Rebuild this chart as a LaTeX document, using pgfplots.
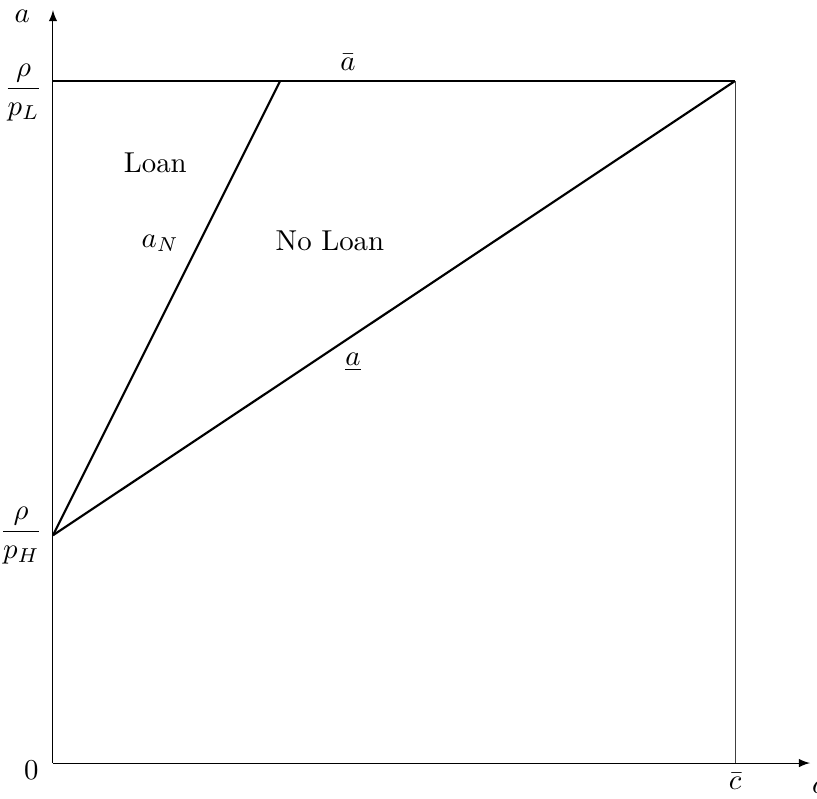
\documentclass[border=0pt]{standalone}
\usepackage{amsmath}
\usepackage{pgfplots}
\pgfplotsset{compat=1.18}
\begin{document}
\begin{tikzpicture}
\begin{axis}[
 x=236.8pt, y=236.8pt,
 axis lines=left,
 axis line style={line width=0.35pt, -latex},
 xmin=0, xmax=1.11, ymin=0, ymax=1.104,
 xtick={1}, xticklabels={$\bar{c}$},
 ytick={0.334},
 yticklabels={$\dfrac{\rho}{\rule{0pt}{7.6pt}p_H}$},
 extra y ticks={1},
 extra y tick labels={$\dfrac{\rho}{\rule{0pt}{7.6pt}p_L}$},
 extra y tick style={yticklabel style={yshift=-3.9pt}},
 major tick length=0pt,
 clip=false,
]
\addplot[black, line width=0.75pt] coordinates {(0,1) (1,1)};
\addplot[black, line width=0.75pt] coordinates {(0,0.334) (0.333,1)};
\addplot[black, line width=0.75pt] coordinates {(0,0.334) (1,1)};
\addplot[black!75, line width=0.3pt] coordinates {(1,0) (1,1)};
\node[anchor=east, xshift=-1.5pt, yshift=-2.4pt] at (axis cs:0,0) {$0$};
\node at (axis cs:0.4326,1.028) {$\bar{a}$};
\node at (axis cs:0.157,0.762) {$a_N$};
\node at (axis cs:0.150,0.880) {Loan};
\node at (axis cs:0.406,0.765) {No Loan};
\node at (axis cs:0.44,0.588) {$\underline{a}$};
\node at (axis cs:1.122,-0.035) {$c$};
\node at (axis cs:-0.045,1.095) {$a$};
\coordinate (bl) at (axis cs:-0.0777,-0.0513);
\coordinate (tr) at (axis cs:1.1202,1.1188);
\end{axis}
\pgfresetboundingbox
\path[use as bounding box] (bl) rectangle (tr);
\end{tikzpicture}
\end{document}
